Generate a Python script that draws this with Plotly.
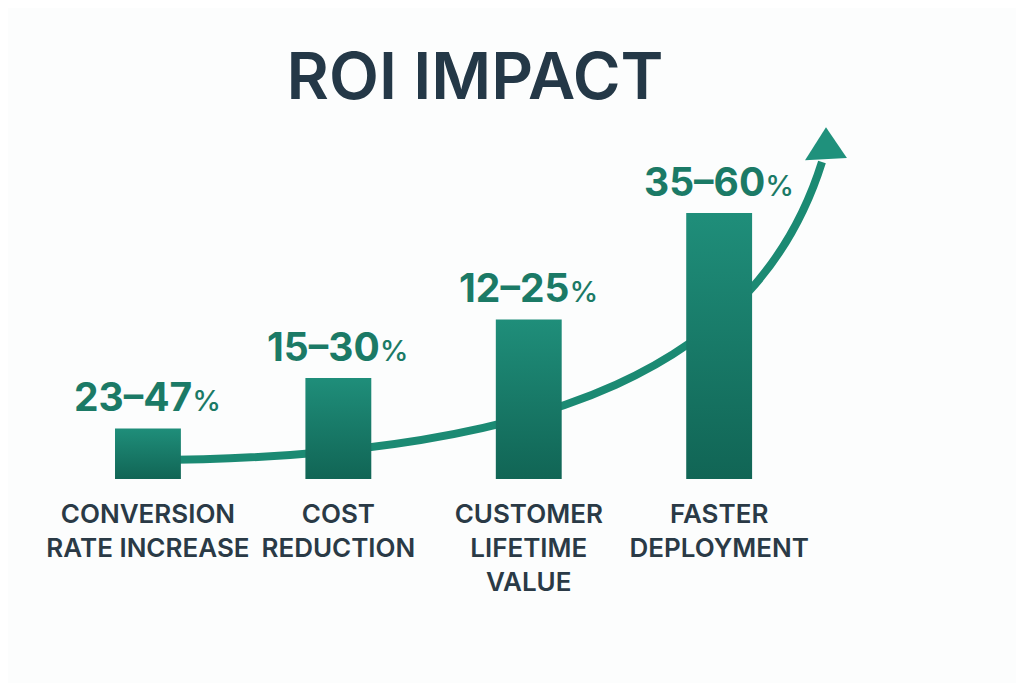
import plotly.graph_objects as go

# ---- data ----
categories = ["CONVERSION<br>RATE INCREASE", "COST<br>REDUCTION",
              "CUSTOMER<br>LIFETIME<br>VALUE", "FASTER<br>DEPLOYMENT"]
range_labels = ["23–47", "15–30", "12–25", "35–60"]
bar_heights = [19, 38, 60, 100]          # relative visual impact index

# trend arrow (decoration) in axis units
trend_ctrl = [(0.0, 7.1), (2.164, 7.9), (3.214, 44.7), (3.540, 119.2)]
arrow_head = [(3.561, 132.3), (3.451, 119.9), (3.671, 120.7)]

TEAL_TOP = "#1f8e7a"
TEAL_BOT = "#116555"
LINE_COL = "#1b8a73"
LABEL_COL = "#1b7a66"
TEXT_COL = "#2a3a46"
TITLE_COL = "#243847"
FONT = "Inter"

fig = go.Figure()
hw = 0.173
for i, h in enumerate(bar_heights):
    fig.add_trace(go.Scatter(
        x=[i - hw, i + hw, i + hw, i - hw, i - hw],
        y=[0, 0, h, h, 0],
        mode="lines", fill="toself", line=dict(width=0),
        fillgradient=dict(type="vertical",
                          colorscale=[[0, TEAL_BOT], [1, TEAL_TOP]]),
        hoverinfo="skip", showlegend=False))
    fig.add_annotation(
        x=i, y=h, xref="x", yref="y", yanchor="bottom", yshift=6,
        showarrow=False,
        text=range_labels[i] + "<span style='font-size:29px;font-weight:500'>%</span>",
        font=dict(family=FONT, size=39, color=LABEL_COL, weight=700))

(p0, p1, p2, p3) = trend_ctrl
path = "M {} {} C {} {}, {} {}, {} {}".format(p0[0], p0[1], p1[0], p1[1],
                                              p2[0], p2[1], p3[0], p3[1])
fig.add_shape(type="path", path=path, xref="x", yref="y", layer="below",
              line=dict(color=LINE_COL, width=8))
t, bl, br = arrow_head
fig.add_shape(type="path", xref="x", yref="y", layer="below",
              path="M {} {} L {} {} L {} {} Z".format(t[0], t[1], bl[0], bl[1], br[0], br[1]),
              fillcolor="#1f917c", line=dict(width=0))

fig.update_layout(
    width=1016, height=675,
    margin=dict(l=0, r=0, t=100, b=204),
    paper_bgcolor="#fcfdfd", plot_bgcolor="#fcfdfd",
    title=dict(text="ROI IMPACT", x=467 / 1016, xanchor="center",
               y=1 - 68.5 / 675, yanchor="middle",
               font=dict(family=FONT, size=65, color=TITLE_COL, weight=600)),
    xaxis=dict(range=[-0.735, 4.601], tickvals=list(range(len(categories))),
               ticktext=categories, showgrid=False, zeroline=False,
               showline=False, ticks="", ticklabelstandoff=17,
               tickfont=dict(family=FONT, size=26, color=TEXT_COL, weight=600),
               fixedrange=True),
    yaxis=dict(range=[0, 139.5], visible=False, fixedrange=True),
    showlegend=False,
)

fig.write_html("out.html")
